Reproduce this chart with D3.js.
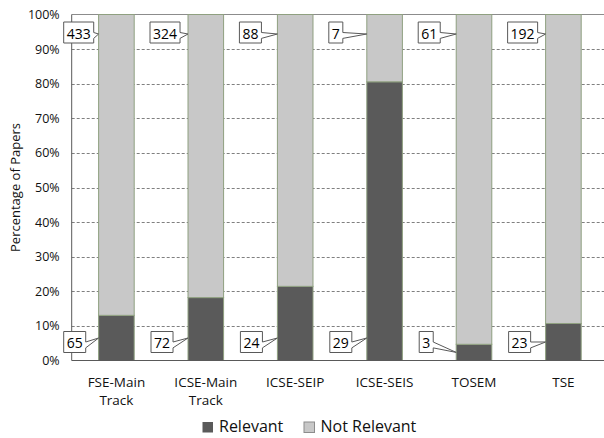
<!DOCTYPE html>
<html>
<head>
<meta charset="utf-8">
<script src="https://cdn.jsdelivr.net/npm/d3@7"></script>
<style>
  body { margin: 0; background: #fff; }
  svg { display: block; font-family: "Open Sans", sans-serif; }
</style>
</head>
<body>
<svg id="chart"></svg>
<script>
const categories = ["FSE-Main Track", "ICSE-Main Track", "ICSE-SEIP", "ICSE-SEIS", "TOSEM", "TSE"];
const relevant = [65, 72, 24, 29, 3, 23];
const notRelevant = [433, 324, 88, 7, 61, 192];
const seriesNames = ["Relevant", "Not Relevant"];
const yTicks = [0, 0.1, 0.2, 0.3, 0.4, 0.5, 0.6, 0.7, 0.8, 0.9, 1];

const width = 604, height = 438;
const plot = { left: 71.7, top: 14.5, bottom: 360.5, step: 89.4 };
const colors = { relevant: "#5a5a5a", notRelevant: "#c8c8c8" };

const svg = d3.select("#chart").attr("width", width).attr("height", height);

const rows = categories.map((c, i) => ({ cat: c, relevant: relevant[i], notRelevant: notRelevant[i] }));
const stacked = d3.stack().keys(["relevant", "notRelevant"]).offset(d3.stackOffsetExpand)(rows);

const x = d3.scaleBand()
    .domain(categories)
    .range([plot.left, plot.left + plot.step * categories.length])
    .paddingInner(0.602)
    .paddingOuter(0.301);
const y = d3.scaleLinear().domain([0, 1]).range([plot.bottom, plot.top]);

/* gridlines */
svg.append("g").selectAll("line")
    .data(yTicks.filter(t => t > 0 && t < 1))
    .join("line")
    .attr("x1", plot.left).attr("x2", width)
    .attr("y1", d => Math.round(y(d)) + 0.5).attr("y2", d => Math.round(y(d)) + 0.5)
    .attr("stroke", "#808080").attr("stroke-dasharray", "3,2").attr("stroke-width", 1);

/* top border */
svg.append("line")
    .attr("x1", plot.left).attr("x2", width)
    .attr("y1", y(1)).attr("y2", y(1))
    .attr("stroke", "#8c8c8c");

/* y axis */
const yAxis = svg.append("g")
    .attr("transform", "translate(" + plot.left + ",0)")
    .call(d3.axisLeft(y).tickValues(yTicks).tickFormat(d3.format(".0%")).tickSize(0).tickPadding(12));
yAxis.select("path.domain").remove();
yAxis.selectAll(".tick text").attr("font-size", 12.5).attr("fill", "#111").attr("font-family", "Open Sans");

/* bars */
stacked.forEach(s => {
    svg.append("g").selectAll("rect")
        .data(s)
        .join("rect")
        .attr("x", d => x(d.data.cat))
        .attr("width", x.bandwidth())
        .attr("y", d => y(d[1]))
        .attr("height", d => y(d[0]) - y(d[1]))
        .attr("fill", colors[s.key])
        .attr("stroke", "#8fa080")
        .attr("stroke-width", 1);
});

/* axis lines */
svg.append("line")
    .attr("x1", plot.left).attr("x2", plot.left)
    .attr("y1", y(1)).attr("y2", y(0))
    .attr("stroke", "#595959");
svg.append("line")
    .attr("x1", plot.left).attr("x2", width)
    .attr("y1", y(0)).attr("y2", y(0))
    .attr("stroke", "#595959");

/* x labels */
const xLab = svg.append("g").selectAll("text")
    .data(categories)
    .join("text")
    .attr("text-anchor", "middle")
    .attr("font-size", 13.5)
    .attr("fill", "#111");
xLab.each(function (c) {
    const parts = c.split(" ");
    const cx = x(c) + x.bandwidth() / 2;
    parts.forEach((p, i) => {
        d3.select(this).append("tspan").attr("x", cx).attr("y", 387 + i * 18).text(p);
    });
});

/* y title */
svg.append("text")
    .attr("transform", "translate(20," + ((plot.top + plot.bottom) / 2) + ") rotate(-90)")
    .attr("text-anchor", "middle")
    .attr("font-size", 13)
    .attr("fill", "#111")
    .text("Percentage of Papers");

/* callouts */
function callout(value, barLeft, boxLeft, boxCy, tipY) {
    const g = svg.append("g");
    const t = g.append("text")
        .attr("font-size", 14)
        .attr("fill", "#000")
        .attr("dominant-baseline", "central")
        .text(value);
    const tw = t.node().getComputedTextLength();
    const h = 21, padL = 3, padR = 3;
    const left = boxLeft, right = boxLeft + tw + padL + padR;
    const top = boxCy - h / 2, bottom = boxCy + h / 2;
    const b1 = top + h * 0.5, b2 = top + h * 0.78;
    const path = "M" + left + "," + top + "H" + right + "V" + b1 +
        "L" + barLeft + "," + tipY + "L" + right + "," + b2 +
        "V" + bottom + "H" + left + "Z";
    g.insert("path", "text")
        .attr("d", path)
        .attr("fill", "#fff")
        .attr("stroke", "#595959")
        .attr("stroke-width", 1);
    t.attr("x", left + padL).attr("y", boxCy + 0.5);
}

rows.forEach((r, i) => {
    const bl = x(r.cat);
    const s0 = stacked[0][i];
    callout(notRelevant[i], bl, Math.max(bl - 38, plot.left - 8), 32.5, 34);
    const mid = (y(s0[0]) + y(s0[1])) / 2;
    callout(relevant[i], bl, Math.max(bl - 37, plot.left - 8), 342, Math.max(338, mid));
});

/* legend */
const legend = svg.append("g");
const legendItems = [
    { name: seriesNames[0], color: colors.relevant, x: 202.5 },
    { name: seriesNames[1], color: colors.notRelevant, x: 304 }
];
legendItems.forEach(it => {
    legend.append("rect")
        .attr("x", it.x).attr("y", 422)
        .attr("width", 10.5).attr("height", 10.5)
        .attr("fill", it.color)
        .attr("stroke", it.color === colors.notRelevant ? "#8c8c8c" : "none");
    legend.append("text")
        .attr("x", it.x + 16.5).attr("y", 432)
        .attr("font-size", 16)
        .attr("fill", "#111")
        .text(it.name);
});
</script>
</body>
</html>
